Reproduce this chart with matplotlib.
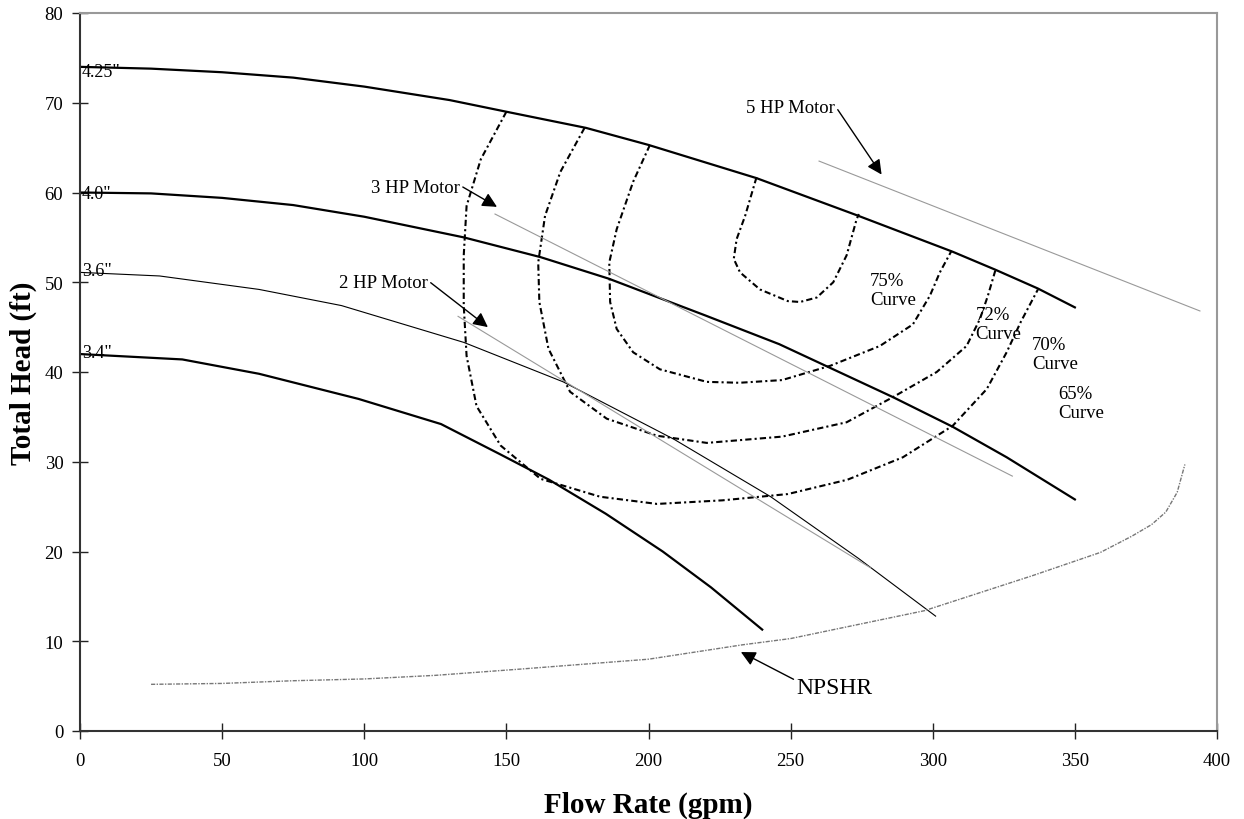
import matplotlib
matplotlib.use("Agg")
from matplotlib import pyplot as plt

plt.rcParams["font.family"] = ["Liberation Serif", "DejaVu Serif"]

# impeller curves (gpm, ft)
x425 = [0, 25, 50, 75, 100, 130, 150, 178, 200, 238, 273, 307, 322, 337, 350]
y425 = [74.0, 73.8, 73.4, 72.8, 71.8, 70.3, 69.0, 67.2, 65.3, 61.6, 57.5, 53.4, 51.4, 49.3, 47.2]

x40 = [0, 25, 50, 75, 100, 135, 162, 186, 220, 246, 286, 307, 326, 350]
y40 = [60.0, 59.9, 59.4, 58.6, 57.3, 55.0, 52.8, 50.4, 46.3, 43.1, 37.2, 33.9, 30.5, 25.8]

x36 = [0, 28, 63, 92, 135, 170, 209, 243, 274, 301]
y36 = [51.1, 50.7, 49.2, 47.4, 43.3, 38.9, 32.5, 26.1, 19.2, 12.8]

x34 = [0, 36, 63, 98, 127, 148, 165, 185, 205, 222, 240]
y34 = [42.0, 41.4, 39.8, 37.0, 34.2, 30.8, 28.0, 24.2, 20.0, 16.0, 11.3]

# efficiency curves
eff65_x = [150, 141, 136, 135, 135, 136, 139.5, 148, 162, 183, 203, 226, 249, 270, 289.5, 307, 319, 326, 331, 337]
eff65_y = [69.0, 63.7, 58.5, 53.0, 47.4, 41.8, 36.2, 31.8, 28.1, 26.1, 25.3, 25.7, 26.4, 28.0, 30.5, 34.0, 38.1, 42.2, 45.6, 49.2]

eff70_x = [177.5, 169, 163.6, 161.2, 161.6, 164.8, 172.4, 185.3, 203, 220.5, 247, 269.7, 286, 301.4, 311.9, 316.6, 319.4, 322]
eff70_y = [67.2, 62.3, 57.4, 52.2, 47.8, 42.6, 37.8, 34.8, 32.9, 32.1, 32.8, 34.4, 37.2, 40.0, 42.9, 45.9, 48.5, 51.3]

eff72_x = [200.5, 194.6, 188.8, 186.2, 186.5, 188.8, 194.6, 204, 220.5, 232, 247, 264, 281.4, 293, 299, 302.5, 306.6]
eff72_y = [65.3, 61.2, 55.9, 52.2, 47.8, 44.8, 42.2, 40.3, 38.9, 38.8, 39.1, 40.7, 42.9, 45.3, 48.5, 51.1, 53.5]

eff75_x = [238, 234, 231, 230, 232.2, 239.2, 249, 253.3, 259.2, 265, 269.7, 273.2, 274]
eff75_y = [61.7, 57.4, 54.8, 52.6, 51.1, 49.2, 47.9, 47.8, 48.3, 50.0, 53.0, 57.0, 57.6]

# motor limit lines
hp2_x = [133, 278]
hp2_y = [46.2, 18.2]
hp3_x = [146, 328]
hp3_y = [57.6, 28.4]
hp5_x = [260, 394]
hp5_y = [63.5, 46.8]

# NPSHR
npshr_x = [25, 50, 75, 100, 125, 155, 200, 233, 250, 297, 335, 359, 370, 377, 382, 386, 388.7]
npshr_y = [5.2, 5.3, 5.6, 5.8, 6.2, 6.9, 8.0, 9.6, 10.3, 13.4, 17.3, 19.9, 21.7, 23.0, 24.4, 26.6, 29.7]

fig = plt.figure(figsize=(12.44, 8.2), dpi=100)
ax = fig.add_axes([80 / 1244, 88 / 820, 1137 / 1244, 718 / 820])

ax.plot(x425, y425, color="black", lw=1.6)
ax.plot(x40, y40, color="black", lw=1.6)
ax.plot(x36, y36, color="black", lw=0.8)
ax.plot(x34, y34, color="black", lw=1.6)

tiret = (0, (3, 1.5, 1, 1.5))
for ex, ey in [(eff65_x, eff65_y), (eff70_x, eff70_y), (eff72_x, eff72_y), (eff75_x, eff75_y)]:
	ax.plot(ex, ey, color="black", lw=1.5, linestyle=tiret)

for mx, my in [(hp2_x, hp2_y), (hp3_x, hp3_y), (hp5_x, hp5_y)]:
	ax.plot(mx, my, color="#999999", lw=0.8)

ax.plot(npshr_x, npshr_y, color="#777777", lw=1.0, linestyle=(0, (3, 1, 1, 1)))

# diameter labels
for d, yy in [('4.25"', 73.5), ('4.0"', 59.9), ('3.6"', 51.3), ('3.4"', 42.2)]:
	ax.text(0.7, yy, d, fontsize=13, ha="left", va="center")

# efficiency labels
for lab, xx, yy in [("75%", 278, 49.1), ("72%", 315, 45.3), ("70%", 335, 42.0), ("65%", 344, 36.5)]:
	ax.text(xx, yy, lab + "\nCurve", fontsize=13.5, ha="left", va="center", linespacing=1.15)

fleche = dict(arrowstyle="-|>", color="black", lw=1.0, mutation_scale=22, shrinkA=0, shrinkB=0)
for lab, tx, ty, ax_, ay_ in [("3 HP Motor", 133.7, 60.6, 146.7, 58.4),
							  ("2 HP Motor", 122.4, 50.0, 143.5, 45.0),
							  ("5 HP Motor", 265.6, 69.5, 282, 62.0)]:
	ax.annotate(lab, xy=(ax_, ay_), xytext=(tx, ty), fontsize=13.5, ha="right", va="center",
				arrowprops=dict(fleche, relpos=(1, 0.6)))

ax.annotate("NPSHR", xy=(232.5, 8.8), xytext=(252, 4.9), fontsize=17, ha="left", va="center",
			arrowprops=dict(fleche, relpos=(0, 0.8)))

ax.set_xlim(0, 400)
ax.set_ylim(0, 80)
ax.set_xticks(range(0, 401, 50))
ax.set_yticks(range(0, 81, 10))
ax.tick_params(direction="inout", length=12, width=1, labelsize=13.5, colors="#222222")
ax.tick_params(axis="x", pad=9)
ax.tick_params(axis="y", pad=6)
for t in ax.get_xticklabels() + ax.get_yticklabels():
	t.set_color("black")

ax.spines["left"].set_color("#333333")
ax.spines["bottom"].set_color("#333333")
ax.spines["left"].set_linewidth(1.5)
ax.spines["bottom"].set_linewidth(1.5)
ax.spines["top"].set_color("#999999")
ax.spines["right"].set_color("#999999")
ax.spines["top"].set_linewidth(1.5)
ax.spines["right"].set_linewidth(1.5)

ax.set_xlabel("Flow Rate (gpm)", fontsize=21, fontweight="bold", va="center")
ax.set_ylabel("Total Head (ft)", fontsize=21, fontweight="bold", va="center")
ax.xaxis.set_label_coords(0.5, -0.102)
ax.yaxis.set_label_coords(-0.05, 0.5)

fig.savefig("out.png", dpi=100)
